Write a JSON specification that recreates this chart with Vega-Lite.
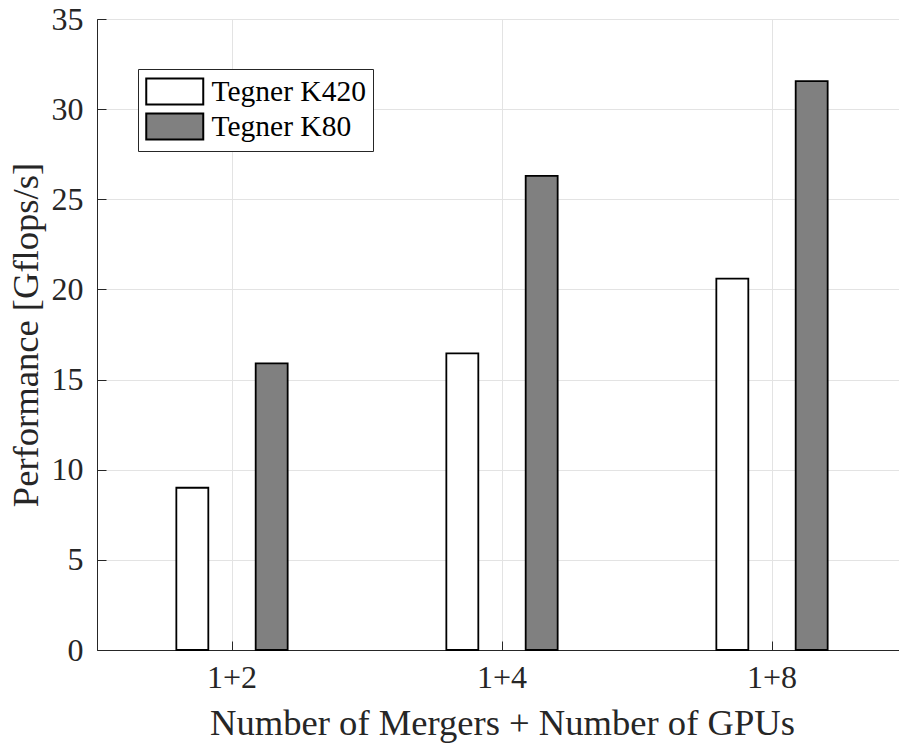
{
  "$schema": "https://vega.github.io/schema/vega-lite/v6.json",
  "autosize": {"type": "none"},
  "padding": {"left": 97, "top": 19, "right": 0, "bottom": 93},
  "width": 802,
  "height": 631,
  "background": "white",
  "data": {
    "values": [
      {"config": "1+2", "series": "Tegner K420", "perf": 9.0},
      {"config": "1+2", "series": "Tegner K80", "perf": 15.9},
      {"config": "1+4", "series": "Tegner K420", "perf": 16.45},
      {"config": "1+4", "series": "Tegner K80", "perf": 26.3},
      {"config": "1+8", "series": "Tegner K420", "perf": 20.6},
      {"config": "1+8", "series": "Tegner K80", "perf": 31.55}
    ]
  },
  "mark": {"type": "bar", "stroke": "black", "strokeWidth": 1.8},
  "encoding": {
    "x": {
      "field": "config",
      "type": "nominal",
      "sort": ["1+2", "1+4", "1+8"],
      "scale": {"range": [0, 810], "paddingInner": 0, "paddingOuter": 0},
      "axis": {
        "title": "Number of Mergers + Number of GPUs",
        "labelAngle": 0,
        "bandPosition": 0.5,
        "tickSize": -9,
        "labelPadding": 21,
        "titlePadding": 12,
        "grid": true
      }
    },
    "xOffset": {
      "field": "series",
      "type": "nominal",
      "sort": ["Tegner K420", "Tegner K80"],
      "scale": {"paddingInner": 0.597, "paddingOuter": 1.052}
    },
    "y": {
      "field": "perf",
      "type": "quantitative",
      "scale": {"domain": [0, 35], "nice": false},
      "axis": {
        "title": "Performance [Gflops/s]",
        "values": [0, 5, 10, 15, 20, 25, 30, 35],
        "tickSize": -9,
        "labelPadding": 23,
        "titlePadding": 6,
        "grid": true
      }
    },
    "fill": {
      "field": "series",
      "type": "nominal",
      "scale": {"domain": ["Tegner K420", "Tegner K80"], "range": ["#ffffff", "#808080"]},
      "legend": {
        "title": null,
        "orient": "none",
        "legendX": 41,
        "legendY": 50,
        "strokeColor": "#262626",
        "fillColor": "white",
        "padding": 7,
        "cornerRadius": 0,
        "symbolType": "M-1,-0.912H3V0.912H-1Z",
        "symbolSize": 812.25,
        "symbolStrokeColor": "black",
        "symbolStrokeWidth": 2,
        "symbolOpacity": 1,
        "labelFont": "Liberation Serif",
        "labelFontSize": 29.5,
        "labelColor": "black",
        "labelOffset": 35.5,
        "rowPadding": 0
      }
    }
  },
  "config": {
    "view": {"stroke": "#262626", "strokeWidth": 1},
    "axis": {
      "labelFont": "Liberation Serif",
      "labelFontSize": 32,
      "labelColor": "#262626",
      "titleFont": "Liberation Serif",
      "titleFontSize": 36.6,
      "titleFontWeight": "normal",
      "titleColor": "#262626",
      "domainColor": "#262626",
      "tickColor": "#262626",
      "gridColor": "#e3e3e3",
      "gridWidth": 1
    }
  }
}
